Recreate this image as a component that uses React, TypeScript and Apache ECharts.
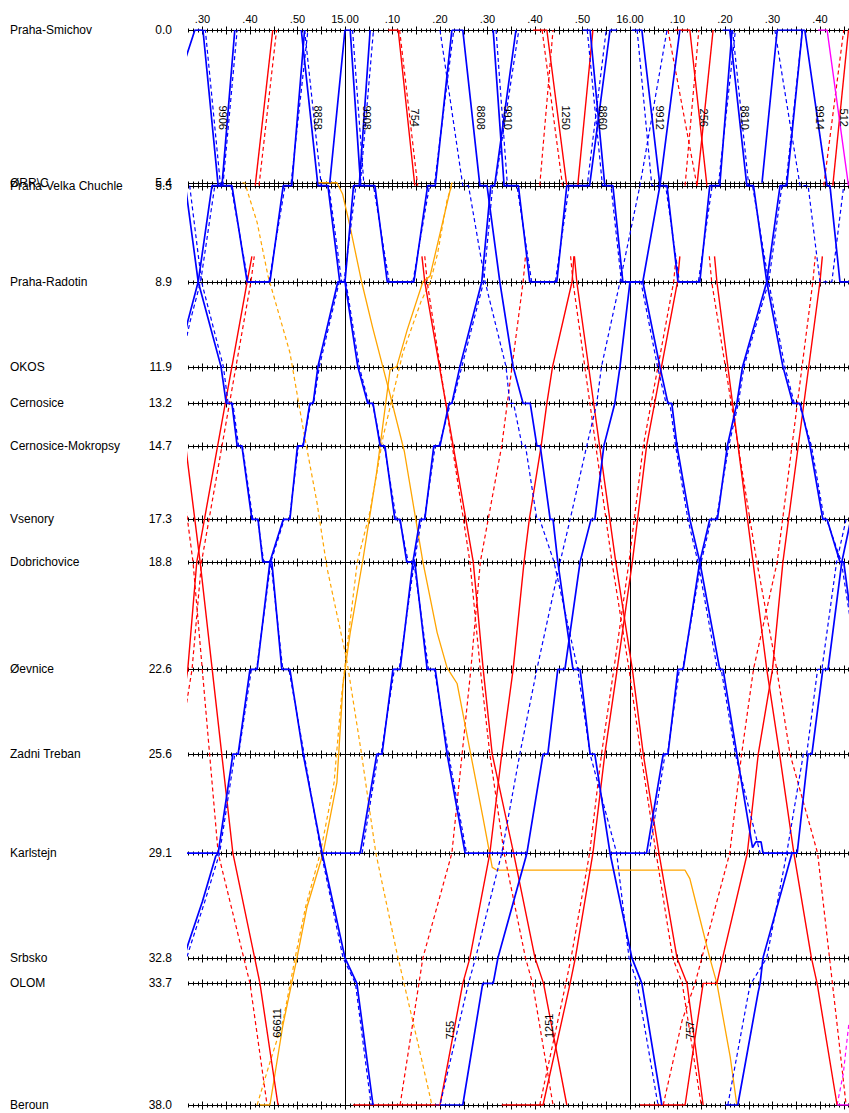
import React, { useEffect, useRef } from "react";
import * as echarts from "echarts";

// ---------- axes ----------
const stationNames = ["Praha-Smichov", "ØRR\\C", "Praha-Velka Chuchle", "Praha-Radotin", "OKOS", "Cernosice", "Cernosice-Mokropsy", "Vsenory", "Dobrichovice", "Øevnice", "Zadni Treban", "Karlstejn", "Srbsko", "OLOM", "Beroun"];
const stationKm = [0, 5.4, 5.5, 8.9, 11.9, 13.2, 14.7, 17.3, 18.8, 22.6, 25.6, 29.1, 32.8, 33.7, 38.0];
const timeLabelMinutes = [30, 40, 50, 60, 70, 80, 90, 100, 110, 120, 130, 140, 150, 160]; // minutes after 14:00
const hourLines = [60, 120];
const X_MIN = 26.95;
const X_MAX = 166.11;

// ---------- train number labels ----------
const labelText = ["9906", "8858", "9908", "754", "8808", "9910", "1250", "8860", "9912", "256", "8810", "9914", "512", "66611", "755", "1251", "757"];
const labelTime = [34.3, 54.3, 64.6, 74.7, 88.6, 94.3, 106.5, 114.3, 126.3, 135.6, 144.2, 160.0, 165.0, 45.6, 82.1, 103.0, 132.6];
const labelKm = [3.1, 3.1, 3.1, 3.1, 3.1, 3.1, 3.1, 3.1, 3.1, 3.1, 3.1, 3.1, 3.1, 35.1, 35.35, 35.2, 35.35];
const labelUp = [false, false, false, false, false, false, false, false, false, false, false, false, false, true, true, true, true];

type P = [number, number] | null;

// ---------- blue, actual (solid) ----------
const b8806: P[] = [[26.4, 5.5], [29.1, 8.9], [33.9, 11.9], [35.0, 13.2], [36.2, 13.2], [37.3, 14.7], [38.3, 14.7], [40.4, 17.3], [41.7, 17.3], [42.7, 18.8], [44.6, 18.8], [46.7, 22.6], [48.4, 22.6], [51.2, 25.6], [55.2, 29.1], [60.0, 32.8], [62.5, 33.7], [65.9, 38.0]];
const bKarl0: P[] = [[20, 29.1], [33.3, 29.1]];
const bU0: P[] = [[24.0, 12.5], [26.9, 10.3], [29.1, 8.9], [32.0, 5.5], [34.1, 5.5], [36.8, 0]];
const bU1: P[] = [[24.5, 33.7], [27.0, 32.3], [30.0, 30.8], [32.8, 29.2], [33.3, 29.1], [36.4, 25.6], [37.5, 25.6], [40.0, 22.6], [41.5, 22.6], [44.2, 18.8], [47.0, 17.3], [48.4, 17.3], [50.0, 14.7], [51.2, 14.7], [52.6, 13.2], [53.3, 13.2], [54.3, 11.9], [58.5, 8.9], [60.0, 8.9], [61.8, 5.5], [63.0, 5.5], [65.3, 0]];
const b9906: P[] = [[25.5, 1.5], [28.4, 0], [30.1, 0], [33.3, 5.5], [36.2, 5.5], [39.4, 8.9], [44.2, 8.9], [47.0, 5.5], [48.8, 5.5], [51.5, 0]];
const b8858: P[] = [[50.8, 0], [54.3, 5.5], [56.4, 5.5], [58.9, 8.9], [60.0, 8.9], [62.7, 11.9], [64.8, 13.2], [65.9, 13.2], [67.4, 14.7], [68.4, 14.7], [70.5, 17.3], [71.6, 17.3], [73.0, 18.8], [74.7, 18.8], [77.3, 22.6], [79.0, 22.6], [81.5, 25.6], [85.3, 29.1], [98.5, 29.1]];
const bOrr1: P[] = [[56.8, 5.4], [60.0, 0], [61.1, 0]];
const bU2: P[] = [[55.2, 29.1], [63.2, 29.1], [66.7, 25.6], [67.8, 25.6], [70.1, 22.6], [71.6, 22.6], [74.3, 18.8], [75.8, 17.3], [76.8, 17.3], [78.7, 14.7], [80.0, 14.7], [81.9, 13.2], [82.5, 13.2], [84.2, 11.9], [88.8, 8.9], [90.7, 5.5], [91.5, 5.5], [96.0, 0]];
const b9908: P[] = [[61.1, 0], [63.3, 5.5], [66.3, 5.5], [68.9, 8.9], [74.5, 8.9], [77.4, 5.5], [79.0, 5.5], [82.5, 0]];
const b8808: P[] = [[82.5, 0], [84.8, 0], [88.4, 5.5], [89.9, 5.5], [92.6, 8.9], [95.4, 11.9], [97.5, 13.2], [99.0, 13.2], [100.4, 14.7], [101.1, 14.7], [103.2, 17.3], [103.8, 17.3], [104.8, 18.8], [108.0, 22.6], [109.5, 22.6], [111.6, 25.6], [112.6, 25.6], [115.8, 29.1], [120.4, 32.8], [122.5, 33.7], [126.7, 38.0]];
const b9910: P[] = [[91.2, 0], [93.5, 5.5], [96.5, 5.5], [98.9, 8.9], [104.6, 8.9], [106.7, 5.5], [111.5, 5.5], [115.8, 0], [117.3, 0]];
const bU3: P[] = [[80.0, 38.0], [84.8, 38.0], [89.0, 33.7], [91.2, 33.7], [92.2, 32.8], [98.3, 29.1], [101.7, 25.6], [102.7, 25.6], [104.8, 22.6], [106.3, 22.6], [109.5, 18.8], [111.8, 17.3], [112.6, 17.3], [114.5, 14.7], [116.8, 13.2], [117.9, 11.9], [120.0, 8.9], [122.7, 8.9], [126.3, 5.5], [130.5, 0]];
const b8860: P[] = [[110.0, 0], [111.6, 0], [114.7, 5.5], [116.4, 5.5], [118.5, 8.9], [122.7, 8.9], [126.3, 11.9], [128.0, 13.2], [128.8, 13.2], [129.9, 14.7], [132.6, 17.3], [134.7, 18.8], [138.9, 22.6], [139.6, 22.6], [142.5, 25.6], [145.8, 28.9], [146.5, 28.7], [147.6, 28.7], [148.0, 29.1], [155.2, 29.1]];
const bU4: P[] = [[115.8, 29.1], [123.5, 29.1], [127.0, 25.6], [128.0, 25.6], [130.1, 22.6], [131.2, 22.6], [134.7, 18.8], [136.8, 17.3], [138.4, 17.3], [140.5, 14.7], [142.5, 13.2], [143.7, 11.9], [148.8, 8.9], [151.6, 5.5], [153.0, 5.5], [156.3, 0]];
const b9912: P[] = [[120.4, 0], [122.5, 0], [126.3, 5.5], [127.8, 5.5], [130.1, 8.9], [134.7, 8.9], [136.8, 5.5], [138.9, 5.5], [141.5, 0]];
const b8810: P[] = [[139.5, 0], [141.0, 0], [144.6, 5.5], [146.0, 5.5], [148.8, 8.9], [152.2, 11.9], [154.3, 13.2], [155.8, 13.2], [157.9, 14.7], [160.6, 17.3], [161.5, 17.3], [164.2, 18.8], [165.0, 18.8], [168.0, 22.6]];
const bOrr2: P[] = [[147.8, 5.4], [151.0, 0], [156.8, 0]];
const b9914: P[] = [[156.8, 0], [161.5, 5.5], [162.1, 5.5], [164.2, 8.9], [167.0, 8.9]];
const bU5: P[] = [[140.0, 38.0], [142.7, 38.0], [147.0, 34.0], [147.4, 33.7], [148.0, 32.8], [154.1, 29.1], [155.2, 29.1], [157.5, 25.6], [158.3, 25.6], [160.6, 22.6], [161.7, 22.6], [164.6, 18.8], [166.5, 17.3]];

// ---------- blue, plan (dashed) ----------
const d8806: P[] = [[27.3, 5.5], [29.8, 8.9], [34.4, 11.9], [35.4, 13.2], [36.4, 13.2], [37.6, 14.7], [38.4, 14.7], [40.6, 17.3], [41.6, 17.3], [42.9, 18.8], [44.4, 18.8], [46.9, 22.6], [48.2, 22.6], [51.4, 25.6], [55.0, 29.1], [59.6, 32.8], [62.2, 33.7], [65.5, 38.0]];
const dU0: P[] = [[24.5, 12.5], [27.4, 10.3], [29.6, 8.9], [32.6, 5.5], [34.3, 5.5], [37.3, 0]];
const dU1: P[] = [[25.0, 33.7], [27.6, 32.3], [30.5, 30.8], [33.6, 29.1], [36.8, 25.6], [37.6, 25.6], [40.3, 22.6], [41.4, 22.6], [44.4, 18.8], [47.2, 17.3], [48.3, 17.3], [50.2, 14.7], [51.1, 14.7], [52.8, 13.2], [53.4, 13.2], [54.6, 11.9], [58.8, 8.9], [59.8, 8.9], [62.3, 5.5], [63.2, 5.5], [66.0, 0]];
const d9906: P[] = [[28.9, 0], [30.6, 0], [33.8, 5.5], [36.0, 5.5], [39.6, 8.9], [44.0, 8.9], [47.4, 5.5], [48.6, 5.5], [52.2, 0]];
const d8858: P[] = [[51.5, 0], [55.0, 5.5], [56.6, 5.5], [59.3, 8.9], [60.2, 8.9], [63.0, 11.9], [65.0, 13.2], [65.8, 13.2], [67.6, 14.7], [68.3, 14.7], [70.8, 17.3], [71.5, 17.3], [73.3, 18.8], [74.5, 18.8], [77.6, 22.6], [78.8, 22.6], [81.8, 25.6], [85.6, 29.1]];
const dU2: P[] = [[63.6, 29.1], [67.0, 25.6], [67.6, 25.6], [70.4, 22.6], [71.4, 22.6], [74.6, 18.8], [76.1, 17.3], [76.7, 17.3], [79.0, 14.7], [79.8, 14.7], [82.2, 13.2], [82.6, 13.2], [84.6, 11.9], [89.2, 8.9], [91.1, 5.5], [91.6, 5.5], [96.6, 0]];
const d9908: P[] = [[61.6, 0], [64.0, 5.5], [66.0, 5.5], [69.3, 8.9], [74.3, 8.9], [77.8, 5.5], [78.8, 5.5], [82.9, 0]];
const d8808: P[] = [[80.0, 0], [84.8, 5.5], [86.0, 5.5], [89.5, 8.9], [93.9, 11.9], [94.7, 13.2], [95.5, 13.2], [97.3, 14.7], [98.0, 14.7], [100.4, 17.3], [101.0, 17.3], [104.0, 18.8], [109.0, 22.6], [111.6, 25.6], [117.2, 29.1], [119.8, 32.8], [121.5, 33.7], [125.9, 38.0]];
const d9910: P[] = [[91.8, 0], [94.2, 5.5], [96.2, 5.5], [99.3, 8.9], [104.3, 8.9], [107.2, 5.5], [111.0, 5.5], [115.0, 0]];
const dU3: P[] = [[79.0, 38.0], [80.0, 38.0], [86.0, 33.7], [87.5, 32.8], [93.0, 29.1], [96.8, 25.6], [100.4, 22.6], [105.3, 18.8], [107.4, 17.3], [110.9, 14.7], [113.0, 13.2], [114.0, 11.9], [117.9, 8.9], [122.1, 5.5], [127.8, 0]];
const d8860: P[] = [[111.0, 0], [114.2, 5.5], [116.0, 5.5], [118.2, 8.9], [122.3, 8.9], [125.8, 11.9], [127.6, 13.2], [128.4, 13.2], [129.6, 14.7], [132.2, 17.3], [134.3, 18.8], [138.4, 22.6], [139.2, 22.6], [142.2, 25.6], [147.4, 29.1], [155.0, 29.1]];
const dU4: P[] = [[124.0, 29.1], [127.4, 25.6], [127.9, 25.6], [130.4, 22.6], [131.1, 22.6], [135.0, 18.8], [137.1, 17.3], [138.2, 17.3], [140.8, 14.7], [142.8, 13.2], [144.0, 11.9], [149.2, 8.9], [152.0, 5.5], [152.8, 5.5], [156.3, 0]];
const d9912: P[] = [[121.5, 0], [124.6, 5.5], [127.5, 5.5], [130.4, 8.9], [134.4, 8.9], [137.3, 5.5], [138.6, 5.5], [142.2, 0]];
const d8810: P[] = [[141.6, 0], [145.0, 5.5], [145.8, 5.5], [149.2, 8.9], [152.6, 11.9], [154.6, 13.2], [155.6, 13.2], [158.2, 14.7], [160.9, 17.3], [161.4, 17.3], [164.5, 18.8], [168.0, 22.6]];
const d9914: P[] = [[150.5, 0], [155.8, 5.5], [157.5, 5.5], [160.0, 8.9], [162.5, 8.9], [165.0, 5.5]];
const dU5: P[] = [[140.6, 38.0], [145.0, 34.0], [145.5, 33.7], [148.8, 32.8], [153.0, 29.1], [156.5, 25.6], [157.2, 25.6], [159.5, 22.6], [160.4, 22.6], [163.5, 18.8], [165.5, 17.3]];

// ---------- red, actual ----------
const rR0: P[] = [[24.5, 12.0], [26.9, 15.3], [29.5, 18.8], [36.4, 29.1], [42.1, 33.7], [45.9, 38.0]];
const rR1: P[] = [[24.8, 25.0], [26.9, 22.6], [28.8, 18.8], [39.4, 8.9], [40.4, 8.0], null, [41.1, 5.5], [44.8, 0]];
const r754: P[] = [[69.1, 0], [71.2, 0], [74.7, 5.5], null, [76.2, 8.0], [76.8, 8.9], [87.0, 18.8], [89.1, 22.6], [91.0, 25.6], [95.5, 29.1], [100.0, 32.8], [101.8, 33.7], [106.7, 38.0]];
const r755: P[] = [[61.7, 38.0], [80.0, 38.0], [84.8, 33.7], [86.3, 32.8], [90.5, 29.1], [93.0, 25.6], [95.4, 22.6], [97.7, 18.8], [98.8, 17.3], [101.3, 14.7], [102.5, 13.2], [103.7, 11.9], [107.8, 8.9], [108.2, 8.0], null, [109.0, 5.5], [112.2, 0]];
const r1250: P[] = [[99.6, 0], [102.5, 0], [106.7, 5.5], null, [108.3, 8.0], [108.8, 8.9], [117.0, 18.8], [120.5, 22.6], [122.8, 25.6], [126.1, 29.1], [129.9, 32.8], [132.0, 33.7], [135.4, 38.0]];
const r1251: P[] = [[93.0, 38.0], [101.7, 38.0], [107.4, 33.7], [108.5, 32.8], [112.2, 29.1], [114.7, 25.6], [117.3, 22.6], [120.5, 18.8], [123.5, 14.7], [130.0, 8.9], [130.5, 8.0], null, [134.1, 5.5], [137.5, 0]];
const r256: P[] = [[129.5, 0], [132.6, 0], [136.2, 5.5], null, [137.8, 8.0], [138.3, 8.9], [145.9, 18.8], [148.8, 22.6], [151.5, 25.6], [154.5, 29.1], [158.2, 32.8], [159.4, 33.7], [163.6, 38.0]];
const r757: P[] = [[122.1, 38.0], [131.6, 38.0], [135.4, 33.7], [138.3, 33.7], [139.5, 32.8], [144.7, 29.1], [147.0, 25.6], [150.0, 22.6], [152.2, 18.8], [160.0, 8.9], [160.5, 8.0], null, [162.7, 5.5], [166.0, 0]];

// ---------- red, plan ----------
const dR0: P[] = [[23.5, 13.0], [28.0, 18.8], [33.3, 29.1], [40.0, 33.7], [43.6, 38.0]];
const dR1: P[] = [[25.5, 25.0], [27.8, 22.6], [29.8, 18.8], [40.2, 8.9], [40.9, 8.0], null, [41.9, 5.5], [45.6, 0]];
const d754: P[] = [[71.5, 0], [75.3, 5.5], null, [76.8, 8.0], [77.3, 8.9], [86.3, 18.8], [88.5, 22.6], [90.5, 25.6], [93.5, 29.1], [98.0, 32.8], [99.5, 33.7], [103.8, 38.0]];
const d755: P[] = [[71.6, 38.0], [76.4, 32.8], [82.5, 29.1], [86.5, 22.6], [88.5, 18.8], [93.0, 14.7], [97.5, 8.9], [98.0, 8.0], null, [101.0, 5.5], [103.8, 0]];
const d1250: P[] = [[101.5, 0], [105.8, 5.5], null, [107.5, 8.0], [108.0, 8.9], [116.2, 18.8], [119.8, 22.6], [122.3, 25.6], [125.5, 29.1], [129.0, 32.8], [131.0, 33.7], [135.0, 38.0]];
const d1251: P[] = [[101.0, 38.0], [106.5, 33.7], [107.6, 32.8], [111.5, 29.1], [114.0, 25.6], [116.6, 22.6], [119.8, 18.8], [122.8, 14.7], [129.2, 8.9], [129.7, 8.0], null, [131.6, 5.5], [134.5, 0]];
const d256: P[] = [[128.0, 0], [134.1, 5.5], null, [136.7, 8.0], [137.2, 8.9], [146.7, 18.8], [150.9, 22.6], [153.7, 25.6], [159.5, 29.1], [163.5, 35.0], [165.5, 38.0]];
const d757: P[] = [[127.0, 38.0], [131.0, 35.0], [133.7, 33.7], [141.0, 29.1], [143.5, 25.6], [146.0, 22.6], [151.0, 18.8], [158.5, 8.9], [159.0, 8.0], null, [160.8, 5.5], [165.0, 0]];

// ---------- magenta ----------
const m512: P[] = [[159.6, 0], [161.5, 0], [166.0, 5.5]];
const mUp: P[] = [[163.6, 38.0], [167.0, 38.0]];
const mUpPlan: P[] = [[163.6, 38.0], [164.9, 36.9], [166.1, 35.1]];

// ---------- orange (freight) ----------
const o66610: P[] = [[54.3, 5.4], [58.3, 5.4], [59.5, 5.8], [61.0, 6.9], [63.5, 8.9], [65.8, 10.5], [69.5, 12.9], [72.5, 14.9], [76.4, 18.8], [79.4, 21.3], [81.5, 22.55], [83.6, 23.1], [86.3, 25.45], [89.0, 27.8], [89.9, 28.6], [91.0, 29.6], [92.0, 29.7], [131.6, 29.7], [132.6, 30.0], [134.1, 31.0], [136.8, 32.8], [138.3, 33.7], [141.1, 36.3], [142.5, 38.0]];
const o66611: P[] = [[42.1, 38.0], [44.2, 38.0], [46.9, 35.2], [49.9, 32.8], [52.0, 31.0], [55.4, 29.1], [58.3, 26.6], [59.6, 23.1], [61.1, 21.3], [63.8, 18.7], [66.7, 15.6], [69.5, 12.0], [70.9, 11.9], [73.1, 10.6], [76.4, 8.9], [77.9, 8.7], [80.0, 7.2], [82.5, 5.4]];
const o66610Plan: P[] = [[38.4, 5.4], [38.9, 5.4], [41.5, 6.8], [43.8, 8.7], [48.4, 11.4], [51.2, 14.1], [54.1, 16.7], [56.2, 19.0], [60.4, 22.3], [63.4, 25.5], [66.5, 29.1], [70.9, 32.6], [75.2, 35.7], [78.3, 38.0]];
const o66611Plan: P[] = [[41.5, 38.0], [44.0, 36.6], [47.0, 35.0], [49.5, 32.8], [51.7, 31.0], [54.8, 29.1], [57.7, 26.6], [59.3, 23.5], [60.8, 21.3], [62.6, 18.8], [65.3, 17.0], [68.0, 14.4], [72.2, 11.4], [76.0, 9.6], [78.0, 8.9], [79.5, 7.9], [81.5, 6.0], [82.7, 5.4]];

const BLUE = "#0000ff";
const RED = "#ff0000";
const ORANGE = "#ffa500";
const MAGENTA = "#ff00ff";

type Train = { pts: P[]; color: string; dashed: boolean; width: number };
const trains: Train[] = [
  ...[o66610, o66611].map((pts) => ({ pts, color: ORANGE, dashed: false, width: 1.3 })),
  ...[o66610Plan, o66611Plan].map((pts) => ({ pts, color: ORANGE, dashed: true, width: 1.2 })),
  ...[dR0, dR1, d754, d755, d1250, d1251, d256, d757].map((pts) => ({ pts, color: RED, dashed: true, width: 1.2 })),
  ...[rR0, rR1, r754, r755, r1250, r1251, r256, r757].map((pts) => ({ pts, color: RED, dashed: false, width: 1.4 })),
  { pts: mUpPlan, color: MAGENTA, dashed: true, width: 1.2 },
  ...[m512, mUp].map((pts) => ({ pts, color: MAGENTA, dashed: false, width: 1.4 })),
  ...[d8806, dU0, dU1, d9906, d8858, dU2, d9908, d8808, d9910, dU3, d8860, dU4, d9912, d8810, d9914, dU5].map((pts) => ({ pts, color: BLUE, dashed: true, width: 1.2 })),
  ...[b8806, bKarl0, bU0, bU1, b9906, b8858, bOrr1, bU2, b9908, b8808, b9910, bU3, b8860, bU4, b9912, b8810, bOrr2, b9914, bU5].map((pts) => ({ pts, color: BLUE, dashed: false, width: 1.7 })),
];

function splitSegments(pts: P[]): [number, number][][] {
  const segs: [number, number][][] = [];
  let cur: [number, number][] = [];
  for (const p of pts) {
    if (p === null) {
      if (cur.length) segs.push(cur);
      cur = [];
    } else cur.push(p);
  }
  if (cur.length) segs.push(cur);
  return segs;
}

const FONT = "'Liberation Sans', Arial, Helvetica, sans-serif";

function timeLabel(v: number): string {
  const h = 14 + Math.floor(v / 60);
  const m = Math.round(v % 60);
  return m === 0 ? `${h}.00` : `.${String(m).padStart(2, "0")}`;
}

export default function App() {
  const ref = useRef<HTMLDivElement>(null);
  useEffect(() => {
    if (!ref.current) return;
    const chart = echarts.init(ref.current, undefined, { renderer: "svg" });
    const snap = (v: number) => Math.round(v) + 0.5;

    const stationSeries: any = {
      type: "custom",
      silent: true,
      z: 1,
      data: stationKm.map((k) => [X_MIN, k]),
      renderItem: (params: any, api: any) => {
        const km = api.value(1);
        const p0 = api.coord([X_MIN, km]);
        const p1 = api.coord([X_MAX, km]);
        const y = snap(p0[1]);
        let d = `M${p0[0]} ${y} L${p1[0]} ${y}`;
        for (let m = Math.ceil(X_MIN); m <= X_MAX; m++) {
          const x = snap(api.coord([m, km])[0]);
          const h = m % 5 === 0 ? 4 : 2;
          d += ` M${x} ${y - h} L${x} ${y + h}`;
        }
        return { type: "path", shape: { pathData: d }, style: { stroke: "#000", fill: "none", lineWidth: 1 } };
      },
    };

    const hourSeries: any = {
      type: "custom",
      silent: true,
      z: 1,
      data: hourLines.map((t) => [t, 0]),
      renderItem: (params: any, api: any) => {
        const t = api.value(0);
        const a = api.coord([t, 0]);
        const b = api.coord([t, 38]);
        const x = snap(a[0]);
        return { type: "line", shape: { x1: x, y1: a[1], x2: x, y2: b[1] }, style: { stroke: "#000", lineWidth: 1 } };
      },
    };

    const labelSeries: any = {
      type: "custom",
      silent: true,
      z: 20,
      data: labelTime.map((t, i) => [t, labelKm[i]]),
      renderItem: (params: any, api: any) => {
        const i = params.dataIndex;
        const p = api.coord([api.value(0), api.value(1)]);
        return {
          type: "text",
          x: p[0],
          y: p[1],
          rotation: labelUp[i] ? Math.PI / 2 : -Math.PI / 2,
          style: { text: labelText[i], fill: "#000", font: `11px ${FONT}`, align: "center", verticalAlign: "middle" },
        };
      },
    };

    const lineSeries: any[] = [];
    trains.forEach((tr, ti) => {
      splitSegments(tr.pts).forEach((seg) => {
        lineSeries.push({
          type: "line",
          data: seg,
          showSymbol: false,
          symbol: "none",
          silent: true,
          clip: true,
          z: 5 + (tr.color === BLUE ? 2 : 0) + (tr.dashed ? 0 : 1),
          lineStyle: { color: tr.color, width: tr.width, type: tr.dashed ? [4, 3] : "solid" },
        });
      });
    });

    chart.setOption({
      animation: false,
      backgroundColor: "#ffffff",
      grid: { left: 188, right: 0, top: 30, bottom: 8, containLabel: false },
      xAxis: {
        type: "value",
        position: "top",
        min: X_MIN,
        max: X_MAX,
        axisLine: { show: false },
        axisTick: { show: false },
        splitLine: { show: false },
        axisLabel: {
          customValues: timeLabelMinutes,
          formatter: (v: number) => timeLabel(v),
          color: "#000",
          fontSize: 11,
          fontFamily: FONT,
          margin: 6,
        },
      },
      yAxis: [
        {
          type: "value",
          inverse: true,
          min: 0,
          max: 38,
          axisLine: { show: false },
          axisTick: { show: false },
          splitLine: { show: false },
          axisLabel: {
            customValues: stationKm,
            formatter: (v: number) => v.toFixed(1),
            color: "#000",
            fontSize: 12,
            fontFamily: FONT,
            margin: 16,
            align: "right",
          },
        },
        {
          type: "value",
          position: "left",
          inverse: true,
          min: 0,
          max: 38,
          axisLine: { show: false },
          axisTick: { show: false },
          splitLine: { show: false },
          axisLabel: {
            customValues: stationKm,
            formatter: (v: number) => {
              const i = stationKm.indexOf(v);
              return i >= 0 ? stationNames[i] : "";
            },
            color: "#000",
            fontSize: 12,
            fontFamily: FONT,
            margin: 178,
            align: "left",
          },
        },
      ],
      series: [stationSeries, hourSeries, ...lineSeries, labelSeries],
    });
    return () => chart.dispose();
  }, []);
  return <div ref={ref} style={{ position: "absolute", left: 0, top: 0, width: 849, height: 1113, background: "#fff" }} />;
}
